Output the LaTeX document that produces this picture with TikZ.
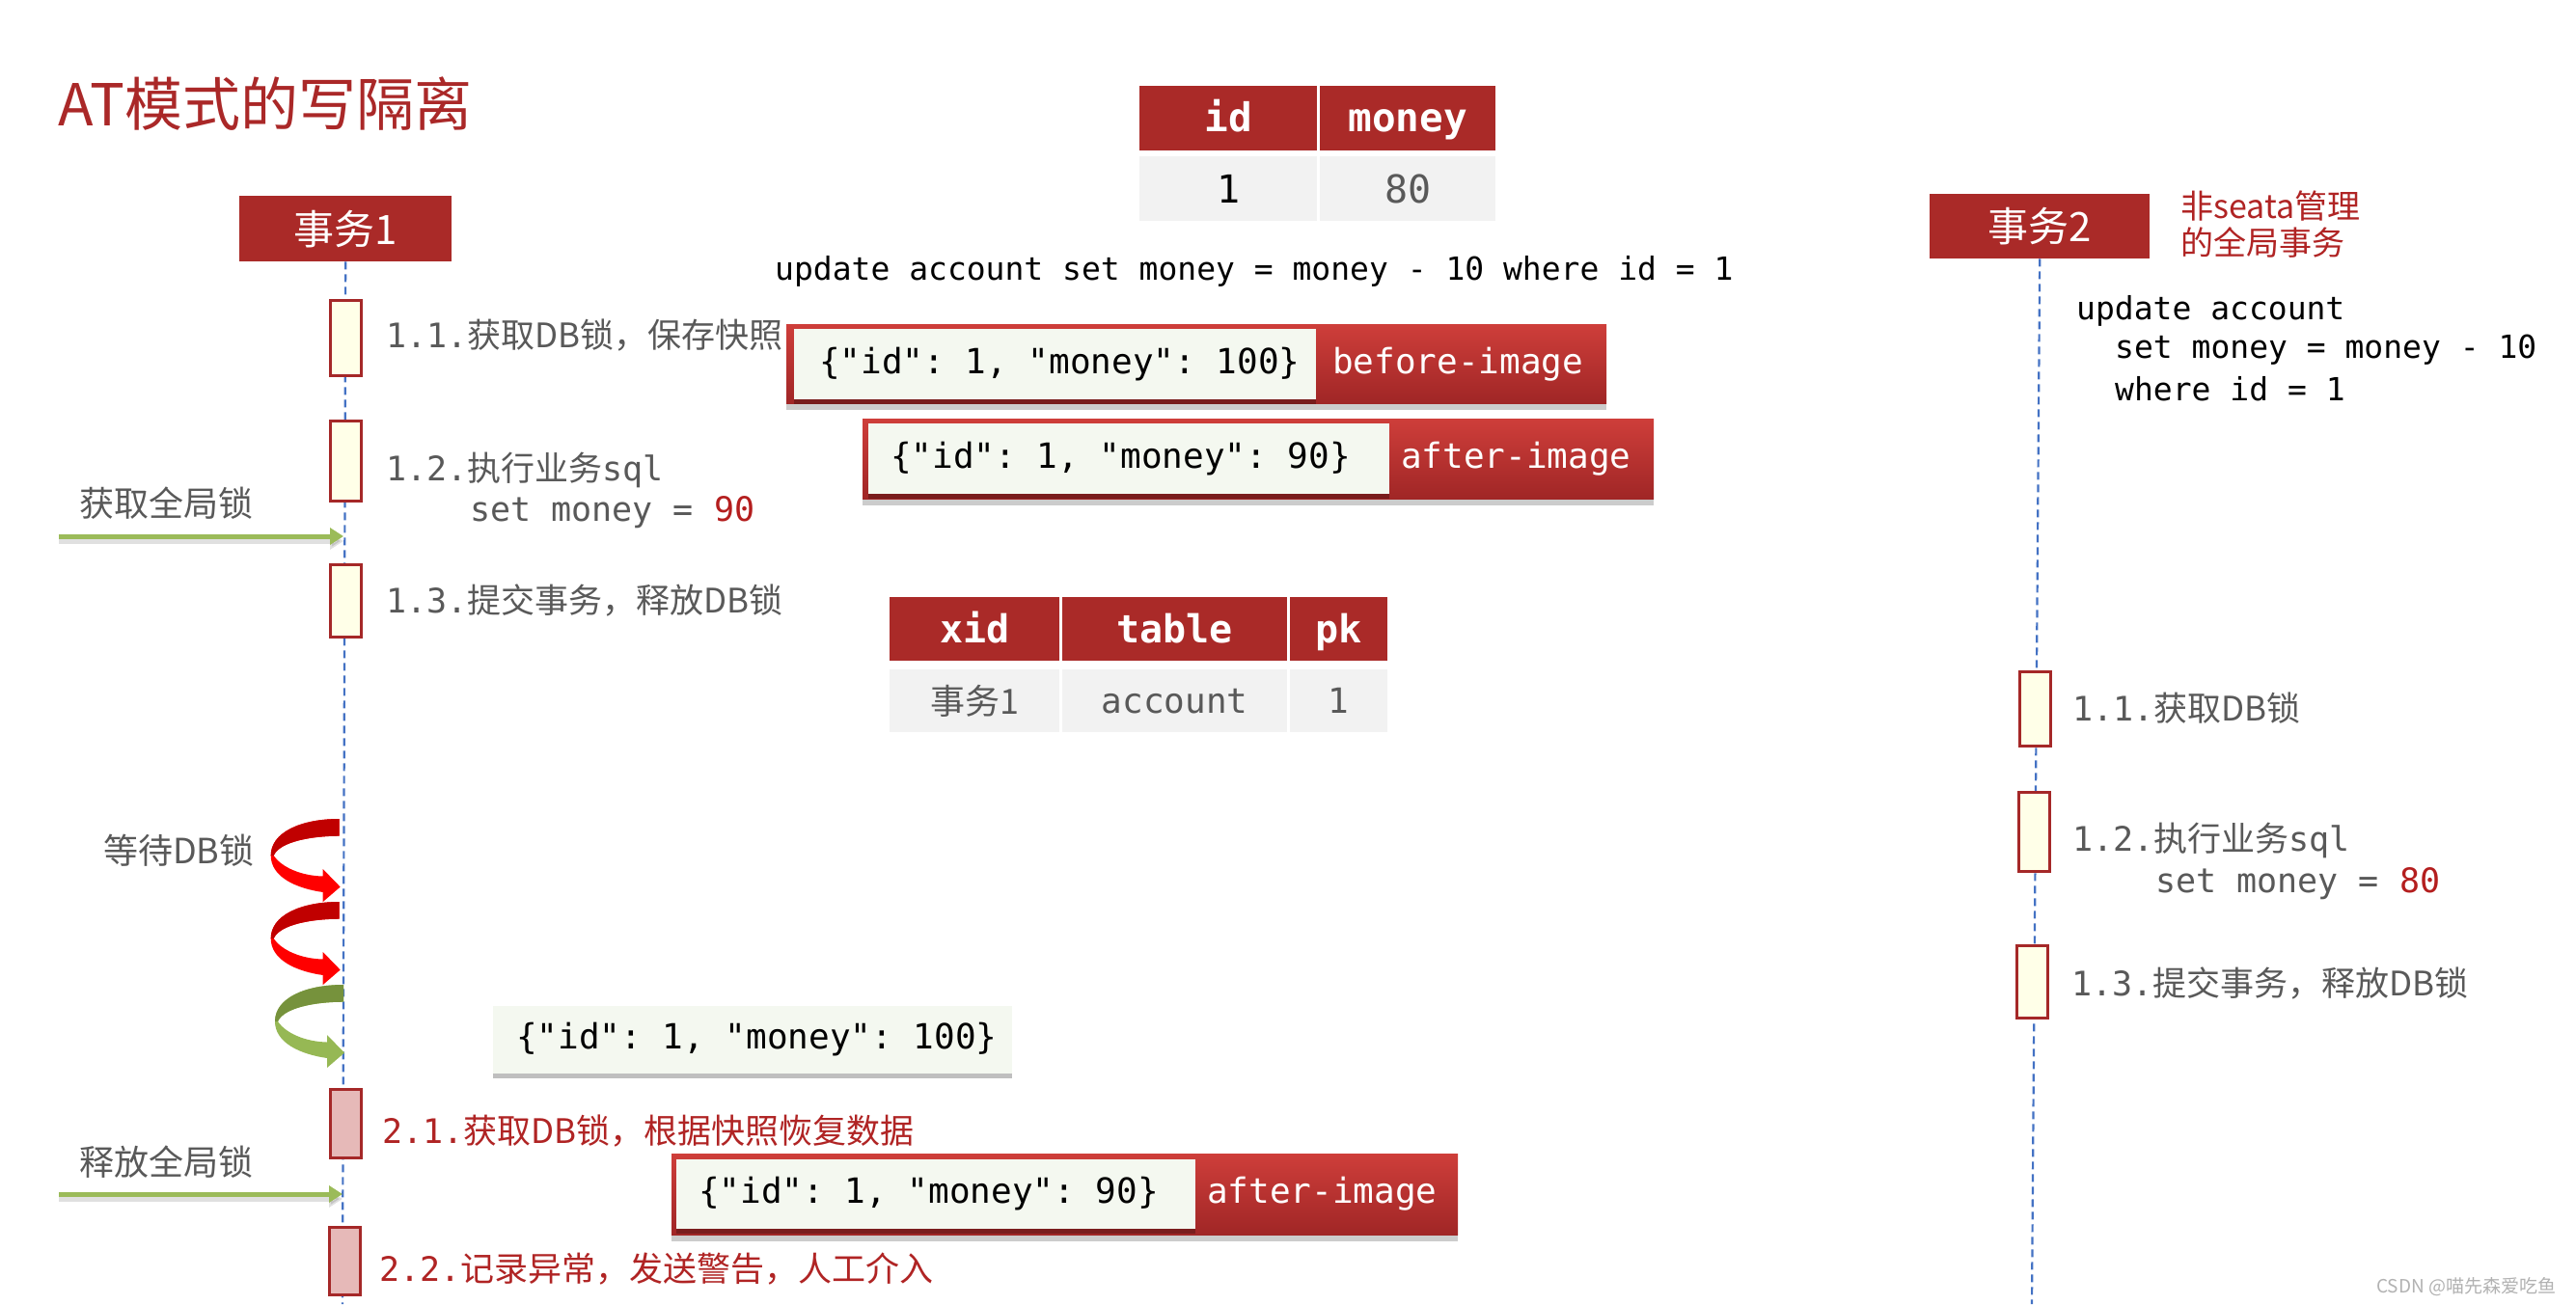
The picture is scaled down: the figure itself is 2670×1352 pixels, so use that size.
\documentclass[tikz,border=0pt]{standalone}
\usepackage{fontspec}
\setmainfont{DejaVu Sans Mono}[Ligatures=TeXOff]
\newfontfamily\cjk{Noto Sans CJK SC}
\frenchspacing
\usetikzlibrary{shadows,arrows.meta}
\definecolor{hdr}{RGB}{170,42,40}
\definecolor{titlered}{RGB}{170,40,40}
\definecolor{textred}{RGB}{176,36,36}
\definecolor{numred}{RGB}{180,30,30}
\definecolor{txtgray}{RGB}{89,89,89}
\definecolor{cellgray}{RGB}{242,242,242}
\definecolor{lightbox}{RGB}{244,248,240}
\definecolor{lifeblue}{RGB}{68,114,196}
\definecolor{arrgreen}{RGB}{155,187,89}
\definecolor{actred}{RGB}{165,40,40}
\definecolor{actyellow}{RGB}{255,255,232}
\definecolor{actpink}{RGB}{230,185,184}
\definecolor{boxtop}{RGB}{206,62,58}
\definecolor{boxbot}{RGB}{160,38,38}
\definecolor{cdark}{RGB}{192,0,0}
\definecolor{cbright}{RGB}{255,0,0}
\definecolor{gdark}{RGB}{118,146,60}
\definecolor{gbright}{RGB}{150,184,84}
\newcommand\fsz[1]{\fontsize{#1}{#1}\selectfont}
\newcommand\curvarrow[4]{%
\begin{scope}[shift={(#1,#2)}]
\fill[#4] (0,0) -- (0,17.7) .. controls (-30,17.7) and (-62,24) .. (-68,38) .. controls (-60,50) and (-40,59) .. (-17,59.5) -- (-17,52) -- (1,70.5) -- (-17,86) -- (-17,76) .. controls (-45,72) and (-71,60) .. (-71,38) .. controls (-71,14) and (-40,0) .. (0,0) -- cycle;
\fill[#3] (0,0) -- (0,17.7) .. controls (-30,17.7) and (-62,24) .. (-68,38) -- (-71,38) .. controls (-71,14) and (-40,0) .. (0,0) -- cycle;
\end{scope}}
\begin{document}
\begin{tikzpicture}[x=1pt,y=-1pt,
  lbl/.style={anchor=west,inner sep=0pt,text=txtgray},
  redlbl/.style={anchor=west,inner sep=0pt,text=textred},
  code/.style={anchor=west,inner sep=0pt,text=black},
  hcell/.style={anchor=north west,inner sep=0pt,fill=hdr,text=white,font=\bfseries\fsz{41},text height=33pt,text depth=5pt},
  rcell/.style={anchor=north west,inner sep=0pt,fill=cellgray},
  tbox/.style={anchor=north west,inner sep=0pt,fill=hdr,text=white,font=\cjk\fsz{42}},
  act/.style={draw=actred,line width=3pt,fill=actyellow,minimum width=32pt,minimum height=#1,inner sep=0pt},
  actp/.style={act=#1,fill=actpink},
  life/.style={draw=lifeblue,line width=2.2pt,dash pattern=on 8pt off 5pt},
  garrow/.style={draw=arrgreen,line width=5pt,-{Triangle[length=14pt,width=17pt]}},
  gshadow/.style={draw=black,opacity=0.12,line width=5pt,-{Triangle[length=14pt,width=17pt]}},
  redbox/.style={anchor=north west,inner sep=0pt,top color=boxtop,bottom color=boxbot,
     drop shadow={shadow xshift=0pt,shadow yshift=-7pt,opacity=0.2,fill=black}},
  litebox/.style={anchor=north west,inner sep=0pt,fill=lightbox,
     drop shadow={shadow xshift=0pt,shadow yshift=-5pt,opacity=0.25,fill=black}},
  imglbl/.style={anchor=west,inner sep=0pt,text=white,font=\fsz{36}},
  json/.style={anchor=west,inner sep=0pt,text=black,font=\fsz{36}}
]
\useasboundingbox[fill=white] (0,0) rectangle (2670,1352);

% title
\node[anchor=west,inner sep=0pt,text=titlered,font=\cjk\fsz{60}] (title) at (60,108) {AT模式的写隔离};

% transaction headers
\node[tbox,minimum width=220pt,minimum height=68pt] (t1) at (248,203) {事务1};
\node[tbox,minimum width=228pt,minimum height=67pt] (t2) at (2000,201) {事务2};
\node[anchor=west,inner sep=0pt,text=textred,font=\cjk\fsz{34}] (n2a) at (2260,214) {非seata管理};
\node[anchor=west,inner sep=0pt,text=textred,font=\cjk\fsz{34}] (n2b) at (2260,251) {的全局事务};

% lifelines
\coordinate (l1bot) at (355,1352);
\coordinate (l2bot) at (2106,1352);
\draw[life] (t1.south) -- (l1bot);
\draw[life] (t2.south) -- (l2bot);

% left activation boxes
\node[act=78pt] (a11) at (358,350) {};
\node[act=83pt] (a12) at (358,477.5) {};
\node[act=75pt] (a13) at (358,622.5) {};
\node[actp=71pt] (a21) at (358,1164.5) {};
\node[actp=70pt] (a22) at (357,1307) {};

% right activation boxes
\node[act=77pt] (b11) at (2109,734.5) {};
\node[act=82pt] (b12) at (2108,862) {};
\node[act=75pt] (b13) at (2106,1017.5) {};

% left labels
\node[lbl,font=\fsz{35}] (s11) at (400,348) {1.1.{\cjk 获取DB锁，保存快照}};
\node[lbl,font=\fsz{35}] (s12) at (400,487) {1.2.{\cjk 执行业务}sql};
\node[lbl,font=\fsz{35}] (s12b) at (487,531) {set money = \textcolor{numred}{90}};
\node[lbl,font=\fsz{35}] (s13) at (400,623) {1.3.{\cjk 提交事务，释放DB锁}};
\node[redlbl,font=\fsz{35}] (s21) at (396,1173) {2.1.{\cjk 获取DB锁，根据快照恢复数据}};
\node[redlbl,font=\fsz{35}] (s22) at (393,1316) {2.2.{\cjk 记录异常，发送警告，人工介入}};

\node[lbl,font=\cjk\fsz{36}] (glock) at (82,522) {获取全局锁};
\node[lbl,font=\cjk\fsz{36}] (rlock) at (82,1205) {释放全局锁};
\node[lbl,font=\cjk\fsz{36}] (wait) at (107,882) {等待DB锁};

% green straight arrows
\coordinate (g1s) at (61,556);
\coordinate (g1e) at (356,556);
\coordinate (g1ss) at (61,561);
\coordinate (g1es) at (356,561);
\draw[gshadow] (g1ss) -- (g1es);
\draw[garrow] (g1s) -- (g1e);
\coordinate (g2s) at (61,1238);
\coordinate (g2e) at (355,1238);
\coordinate (g2ss) at (61,1243);
\coordinate (g2es) at (355,1243);
\draw[gshadow] (g2ss) -- (g2es);
\draw[garrow] (g2s) -- (g2e);

% curved wait arrows
\curvarrow{351.7}{849}{cdark}{cbright}
\curvarrow{351.7}{935}{cdark}{cbright}
\curvarrow{356}{1021}{gdark}{gbright}

% right labels
\node[lbl,font=\fsz{35}] (r11) at (2148,734) {1.1.{\cjk 获取DB锁}};
\node[lbl,font=\fsz{35}] (r12) at (2148,871) {1.2.{\cjk 执行业务}sql};
\node[lbl,font=\fsz{35}] (r12b) at (2234,916) {set money = \textcolor{numred}{80}};
\node[lbl,font=\fsz{35}] (r13) at (2147,1019) {1.3.{\cjk 提交事务，释放DB锁}};

% right update statement
\node[code,font=\fsz{33}] (u2a) at (2152,322) {update account};
\node[code,font=\fsz{33}] (u2b) at (2192,363) {set money = money - 10};
\node[code,font=\fsz{33}] (u2c) at (2192,403) {where id = 1};

% top table
\node[hcell,minimum width=184pt,minimum height=67pt] (hid) at (1181,89) {id};
\node[hcell,minimum width=182pt,minimum height=67pt] (hmoney) at (1368,89) {money};
\node[rcell,minimum width=184pt,minimum height=67pt,font=\fsz{40},text=black] (vid) at (1181,162) {1};
\node[rcell,minimum width=182pt,minimum height=67pt,font=\fsz{40},text=txtgray] (vmoney) at (1368,162) {80};

% update statement
\node[code,font=\fsz{33}] (upd) at (803,281) {update account set money = money - 10 where id = 1};

% before image
\node[redbox,minimum width=850pt,minimum height=82pt] (bo) at (815,336) {};
\node[litebox,minimum width=541pt,minimum height=73pt] (bi) at (823,341) {};
\node[json] (bt) at (849,378) {\{"id": 1, "money": 100\}};
\node[imglbl] (bl) at (1381,378) {before-image};

% after image (top)
\node[redbox,minimum width=820pt,minimum height=83pt] (ao) at (894,434) {};
\node[litebox,minimum width=540pt,minimum height=73pt] (ai) at (900,439) {};
\node[json] (at) at (923,476) {\{"id": 1, "money": 90\}};
\node[imglbl] (al) at (1452,476) {after-image};

% lock table
\node[hcell,minimum width=176pt,minimum height=66pt,font=\bfseries\fsz{40}] (hxid) at (922,619) {xid};
\node[hcell,minimum width=233pt,minimum height=66pt,font=\bfseries\fsz{40}] (htab) at (1101,619) {table};
\node[hcell,minimum width=101pt,minimum height=66pt,font=\bfseries\fsz{40}] (hpk) at (1337,619) {pk};
\node[rcell,minimum width=176pt,minimum height=65pt,font=\cjk\fsz{36},text=txtgray] (vxid) at (922,694) {事务1};
\node[rcell,minimum width=233pt,minimum height=65pt,font=\fsz{36},text=txtgray] (vtab) at (1101,694) {account};
\node[rcell,minimum width=101pt,minimum height=65pt,font=\fsz{36},text=txtgray] (vpk) at (1337,694) {1};

% green snapshot box
\node[litebox,minimum width=538pt,minimum height=70pt] (gb) at (511,1043) {};
\node[json] (gt) at (535,1078) {\{"id": 1, "money": 100\}};

% after image (bottom)
\node[redbox,minimum width=815pt,minimum height=84pt] (co) at (696,1196) {};
\node[litebox,minimum width=538pt,minimum height=72pt] (ci) at (701,1202) {};
\node[json] (ct) at (724,1238) {\{"id": 1, "money": 90\}};
\node[imglbl] (cl) at (1251,1238) {after-image};

% watermark
\node[anchor=west,inner sep=0pt,text=black!30,font=\cjk\fsz{19}] (wm) at (2463,1334) {CSDN @喵先森爱吃鱼};
\end{tikzpicture}
\end{document}
